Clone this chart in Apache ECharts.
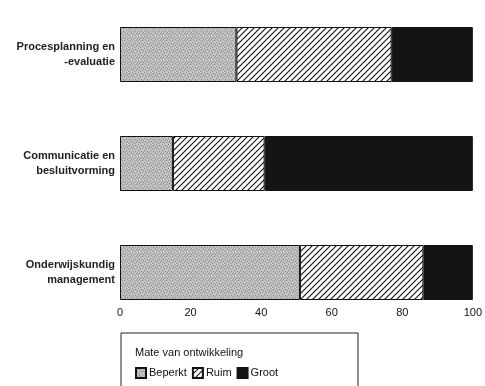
<!DOCTYPE html>
<html>
<head>
<meta charset="utf-8">
<script src="https://cdn.jsdelivr.net/npm/echarts@6/dist/echarts.min.js"></script>
<style>
  html,body{margin:0;padding:0;background:#fff;}
  #chart{width:485px;height:386px;}
</style>
</head>
<body>
<div id="chart"></div>
<script>
const categories = ['Procesplanning en\n-evaluatie', 'Communicatie en\nbesluitvorming', 'Onderwijskundig\nmanagement'];
const seriesNames = ['Beperkt', 'Ruim', 'Groot'];
const beperkt = [33, 15, 51];
const ruim = [44, 26, 35];
const groot = [23, 59, 14];
const xTicks = [0, 20, 40, 60, 80, 100];

// grey stipple texture
function stipple(){
    const c=document.createElement('canvas');
    c.width=6;c.height=6;
    const ctx=c.getContext('2d');
    ctx.fillStyle='#b9b9b9';
    ctx.fillRect(0,0,6,6);
    ctx.fillStyle='#8e8e8e';
    [[0,0],[3,1],[1,3],[4,4],[5,2],[2,5]].forEach(p=>ctx.fillRect(p[0],p[1],1,1));
    ctx.fillStyle='#d8d8d8';
    [[2,0],[5,0],[0,2],[3,3],[1,5],[4,5]].forEach(p=>ctx.fillRect(p[0],p[1],1,1));
    return c;
}
// diagonal hatch
function hatch(){
    const c=document.createElement('canvas');
    c.width=6;c.height=6;
    const ctx=c.getContext('2d');
    ctx.fillStyle='#fff';
    ctx.fillRect(0,0,6,6);
    ctx.strokeStyle='#111';
    ctx.lineWidth=1.1;
    ctx.beginPath();
    ctx.moveTo(-1,7);ctx.lineTo(7,-1);
    ctx.moveTo(-1,1);ctx.lineTo(1,-1);
    ctx.moveTo(5,7);ctx.lineTo(7,5);
    ctx.stroke();
    return c;
}

const fills=[
    {image:stipple(),repeat:'repeat'},
    {image:hatch(),repeat:'repeat'},
    '#141414'
];
const dataSets=[beperkt,ruim,groot];

const myChart=echarts.init(document.getElementById('chart'));
const option={
    animation:false,
    textStyle:{fontFamily:'Liberation Sans, Arial, sans-serif'},
    title:{
        text:'Mate van ontwikkeling',
        left:130,
        top:342,
        textStyle:{fontSize:11,fontWeight:'normal',color:'#111'}
    },
    legend:{
        left:130,
        top:362,
        itemWidth:10,
        itemHeight:10,
        itemGap:5,
        icon:'rect',
        textStyle:{fontSize:11,color:'#111',padding:[0,0,0,-2]},
        data:seriesNames
    },
    graphic:[{
        type:'rect',
        shape:{x:121,y:333,width:237,height:70},
        style:{fill:'none',stroke:'#222',lineWidth:1}
    }],
    grid:{left:120,right:5,top:-3,height:330},
    xAxis:{
        type:'value',
        min:0,
        max:100,
        interval:20,
        offset:-22,
        axisLine:{show:false},
        axisTick:{show:false},
        splitLine:{show:false},
        axisLabel:{
            margin:2,
            fontSize:11,
            color:'#111',
            customValues:xTicks
        }
    },
    yAxis:{
        type:'category',
        inverse:true,
        data:categories,
        axisLine:{show:false},
        axisTick:{show:false},
        axisLabel:{
            margin:5,
            fontSize:11,
            fontWeight:'bold',
            lineHeight:15,
            color:'#222',
            align:'right'
        }
    },
    series:dataSets.map((d,i)=>({
        name:seriesNames[i],
        type:'bar',
        stack:'total',
        barWidth:55,
        data:d,
        itemStyle:{color:fills[i],borderColor:'#111',borderWidth:1}
    }))
};
myChart.setOption(option);
</script>
</body>
</html>
